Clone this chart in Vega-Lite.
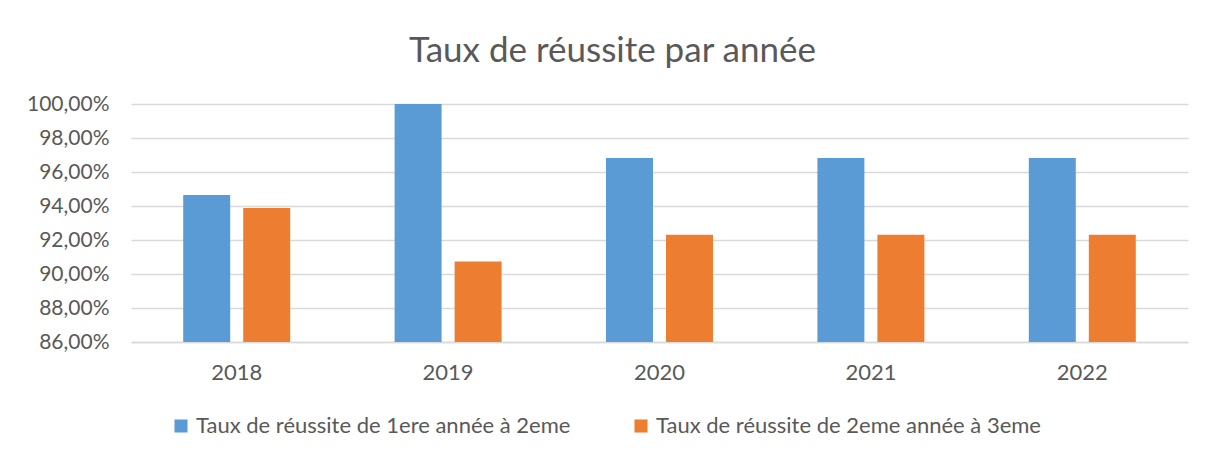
{
  "$schema": "https://vega.github.io/schema/vega-lite/v6.json",
  "width": 1057,
  "height": 238,
  "autosize": {"type": "none"},
  "padding": {"left": 131, "top": 104, "right": 30, "bottom": 121},
  "background": "white",
  "title": {
    "text": "Taux de réussite par année",
    "font": "Lato",
    "fontSize": 35,
    "fontWeight": "normal",
    "color": "#595959",
    "anchor": "middle",
    "dx": -47,
    "offset": 24
  },
  "data": {
    "values": [
      {"annee": "2018", "serie": "Taux de réussite de 1ere année à 2eme", "taux": 0.9464},
      {"annee": "2018", "serie": "Taux de réussite de 2eme année à 3eme", "taux": 0.9388},
      {"annee": "2019", "serie": "Taux de réussite de 1ere année à 2eme", "taux": 1.0},
      {"annee": "2019", "serie": "Taux de réussite de 2eme année à 3eme", "taux": 0.9074},
      {"annee": "2020", "serie": "Taux de réussite de 1ere année à 2eme", "taux": 0.9683},
      {"annee": "2020", "serie": "Taux de réussite de 2eme année à 3eme", "taux": 0.9231},
      {"annee": "2021", "serie": "Taux de réussite de 1ere année à 2eme", "taux": 0.9683},
      {"annee": "2021", "serie": "Taux de réussite de 2eme année à 3eme", "taux": 0.9231},
      {"annee": "2022", "serie": "Taux de réussite de 1ere année à 2eme", "taux": 0.9683},
      {"annee": "2022", "serie": "Taux de réussite de 2eme année à 3eme", "taux": 0.9231}
    ]
  },
  "mark": {"type": "bar", "clip": true},
  "encoding": {
    "x": {
      "field": "annee",
      "type": "nominal",
      "scale": {"paddingInner": 0, "paddingOuter": 0},
      "axis": {
        "title": null,
        "labelAngle": 0,
        "labelFont": "Lato",
        "labelFontSize": 22,
        "labelColor": "#595959",
        "labelPadding": 20,
        "ticks": false,
        "domain": true,
        "domainColor": "#d9d9d9",
        "domainWidth": 1.5,
        "grid": false
      }
    },
    "xOffset": {
      "field": "serie",
      "type": "nominal",
      "scale": {"paddingInner": 0.217, "paddingOuter": 0.87}
    },
    "y": {
      "field": "taux",
      "type": "quantitative",
      "scale": {"domain": [0.86, 1.0], "nice": false, "zero": false},
      "axis": {
        "title": null,
        "values": [0.86, 0.88, 0.9, 0.92, 0.94, 0.96, 0.98, 1.0],
        "labelExpr": "replace(format(datum.value, '.2%'), '.', ',')",
        "labelFont": "Lato",
        "labelFontSize": 21,
        "labelColor": "#595959",
        "labelPadding": 22,
        "ticks": false,
        "domain": false,
        "grid": true,
        "gridColor": "#d9d9d9",
        "gridWidth": 1.5
      }
    },
    "color": {
      "field": "serie",
      "type": "nominal",
      "scale": {
        "domain": ["Taux de réussite de 1ere année à 2eme", "Taux de réussite de 2eme année à 3eme"],
        "range": ["#5B9BD5", "#ED7D31"]
      },
      "legend": {
        "title": null,
        "orient": "none",
        "legendX": 39,
        "legendY": 311,
        "direction": "horizontal",
        "columns": 2,
        "columnPadding": 59,
        "symbolType": "square",
        "symbolSize": 170,
        "symbolStrokeWidth": 0,
        "labelFont": "Lato",
        "labelFontSize": 22,
        "labelColor": "#595959",
        "labelOffset": 4,
        "labelLimit": 600
      }
    }
  },
  "config": {"view": {"stroke": null}}
}
